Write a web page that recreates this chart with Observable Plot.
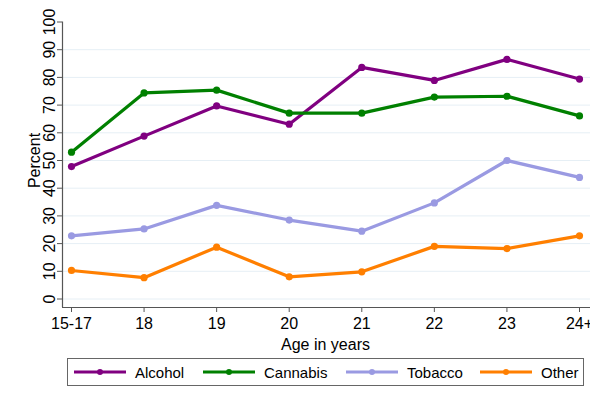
<!DOCTYPE html>
<html>
<head>
<meta charset="utf-8">
<script src="https://cdn.jsdelivr.net/npm/d3@7"></script>
<script src="https://cdn.jsdelivr.net/npm/@observablehq/plot@0.6"></script>
<style>
  body { margin: 0; background: #fff; font-family: "Liberation Sans", Arial, Helvetica, sans-serif; }
  #wrap { position: relative; width: 590px; height: 402px; overflow: hidden; }
  #legend { position: absolute; left: 67px; top: 358px; width: 515px; height: 26px; border: 1px solid #666; box-sizing: content-box; }
  .item { position: absolute; top: 0; height: 26px; display: flex; align-items: center; font-size: 15px; color: #000; }
  .item svg { margin-right: 9px; }
</style>
</head>
<body>
<div id="wrap"><div id="chart"></div><div id="legend"></div></div>
<script>
const ages = ["15-17", "18", "19", "20", "21", "22", "23", "24+"];
const seriesNames = ["Alcohol", "Cannabis", "Tobacco", "Other"];
const colors = ["#800080", "#008000", "#9a9ae2", "#ff7f00"];
const alcohol  = [47.8, 58.8, 69.7, 63.1, 83.6, 78.9, 86.5, 79.4];
const cannabis = [53.0, 74.4, 75.4, 67.1, 67.1, 72.9, 73.2, 66.1];
const tobacco  = [22.8, 25.3, 33.8, 28.5, 24.5, 34.7, 50.0, 43.9];
const other    = [10.3, 7.7, 18.7, 8.0, 9.8, 19.0, 18.2, 22.8];
const yTicks = [0, 10, 20, 30, 40, 50, 60, 70, 80, 90, 100];
const gridTicks = [0, 10, 20, 30, 40, 50, 60, 70, 80, 90];

const allSeries = [alcohol, cannabis, tobacco, other];
const data = [];
allSeries.forEach((vals, s) => vals.forEach((v, i) => data.push({series: seriesNames[s], i, v})));

const axisX0 = -0.124;   // y-axis line position (index units)
const axisY0 = -3.07;    // x-axis line position (percent units)
const xRight = 7.2;

const chart = Plot.plot({
  width: 590,
  height: 352,
  marginLeft: 71,
  marginRight: 11,
  marginTop: 21.5,
  marginBottom: 53.5,
  style: { fontFamily: "'Liberation Sans', Arial, Helvetica, sans-serif", fontSize: "16px", color: "#000", background: "white", overflow: "visible" },
  x: { type: "linear", domain: [0, 7] },
  y: { domain: [0, 100] },
  color: { domain: seriesNames, range: colors },
  marks: [
    Plot.ruleY(gridTicks, { x1: axisX0, x2: xRight, stroke: "#e6eff5", strokeWidth: 1 }),
    Plot.ruleX([axisX0], { y1: axisY0, y2: 100, stroke: "#555", strokeWidth: 1.2 }),
    Plot.ruleY([axisY0], { x1: axisX0, x2: xRight, stroke: "#555", strokeWidth: 1.2 }),
    Plot.axisY({ ticks: yTicks, tickSize: 5, dx: -9, tickPadding: 3, tickRotate: -90, stroke: "#555", fill: "#000", label: null, fontSize: 16 }),
    Plot.axisX({ ticks: d3.range(ages.length), tickFormat: i => ages[i], tickSize: 5, dy: 8.5, tickPadding: 5, stroke: "#555", fill: "#000", label: null, fontSize: 16 }),
    Plot.text(["Percent"], { x: axisX0, y: 50, dx: -28, rotate: -90, fontSize: 16, fill: "#000" }),
    Plot.text(["Age in years"], { x: 3.5, y: axisY0, dy: 37, fontSize: 16, fill: "#000" }),
    Plot.line(data, { x: "i", y: "v", z: "series", stroke: "series", strokeWidth: 3.2 }),
    Plot.dot(data, { x: "i", y: "v", fill: "series", r: 3.6 })
  ]
});
document.getElementById("chart").appendChild(chart);

const legend = document.getElementById("legend");
const starts = [6, 135, 278, 412];
seriesNames.forEach((name, k) => {
  const it = document.createElement("div");
  it.className = "item";
  it.style.left = starts[k] + "px";
  it.innerHTML = `<svg width="52" height="10"><line x1="0" y1="5" x2="52" y2="5" stroke="${colors[k]}" stroke-width="3"/><circle cx="26" cy="5" r="3" fill="${colors[k]}"/></svg><span>${name}</span>`;
  legend.appendChild(it);
});
</script>
</body>
</html>
